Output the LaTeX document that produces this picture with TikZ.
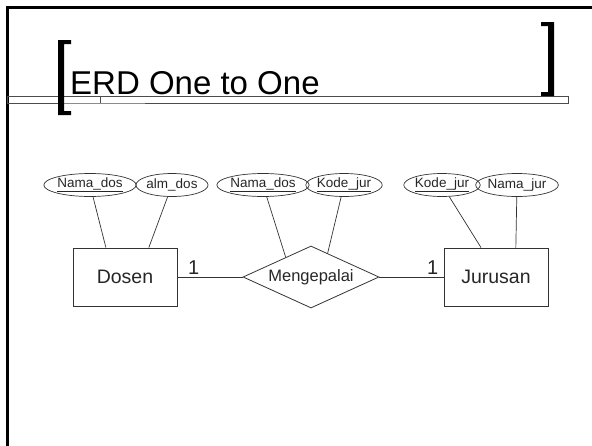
\documentclass[tikz,border=0pt]{standalone}
\usepackage{fontspec}
\setmainfont{Liberation Sans}
\usetikzlibrary{shapes.geometric}

\begin{document}
\begin{tikzpicture}[x=1pt,y=-1pt,
		entity/.style={draw=black!80,line width=0.8pt,minimum width=104pt,minimum height=58pt,inner sep=0pt,text=black!85,font=\fontsize{19.5}{22}\selectfont},
		relation/.style={draw=black!80,line width=0.8pt,diamond,aspect=2.2,minimum width=136pt,minimum height=62pt,inner sep=0pt,text=black!85,font=\fontsize{16.5}{19}\selectfont},
		attrib/.style={draw=black!80,line width=0.7pt,ellipse,minimum width=71pt,minimum height=23pt,inner sep=0pt,text=black!85,font=\fontsize{13.5}{15}\selectfont},
		card/.style={above=1pt,inner sep=1pt,text=black!85,font=\fontsize{20}{22}\selectfont},
		link/.style={black!80,line width=0.7pt}]
		\useasboundingbox (0,0) rectangle (592,445);
		% slide frame
		\draw[line width=2.8pt] (7.8,450) -- (7.8,7.6) -- (600,7.6);
		% title bar and brackets
		\draw[black!70,line width=0.7pt] (7.8,96) rectangle (568,103);
		\draw[black!70,line width=0.7pt] (100,96) -- (100,103);
		\draw[black!45,line width=0.8pt] (60,103.6) -- (145,103.6);
		\fill (58,40) -- (71,40) -- (71,44) -- (64,44) -- (64,111) -- (71,111) -- (71,115) -- (58,115) -- cycle;
		\fill (554,22) -- (541,22) -- (541,26) -- (548,26) -- (548,92) -- (541,92) -- (541,96) -- (554,96) -- cycle;
		\node[anchor=base west,inner sep=0pt,font=\fontsize{33}{36}\selectfont] (title) at (70,94) {ERD One to One};
		% entities and relation
		\node[entity] (dosen) at (125,277) {Dosen};
		\node[relation] (rel) at (311,277) {Mengepalai};
		\node[entity] (jurusan) at (496,277) {Jurusan};
		% attributes
		\node[attrib] (namados) at (90,185) {\underline{Nama\_dos}};
		\node[attrib] (almdos) at (172,185) {alm\_dos};
		\node[attrib] (relnamados) at (263,185) {\underline{Nama\_dos}};
		\node[attrib] (relkodejur) at (344,185) {\underline{Kode\_jur}};
		\node[attrib] (kodejur) at (442,185) {\underline{Kode\_jur}};
		\node[attrib] (namajur) at (517,185) {Nama\_jur};
		% links
		\draw[link] (namados) -- (dosen.123);
		\draw[link] (almdos) -- (dosen.51);
		\draw[link] (relnamados) -- (rel.142);
		\draw[link] (relkodejur) -- (rel.55);
		\draw[link] (kodejur) -- (jurusan.117);
		\draw[link] (namajur) -- (jurusan.56);
		\draw[link] (dosen) -- node[card,pos=0.25] {1} (rel);
		\draw[link] (rel) -- node[card,pos=0.83] {1} (jurusan);
	\end{tikzpicture}
\end{document}
